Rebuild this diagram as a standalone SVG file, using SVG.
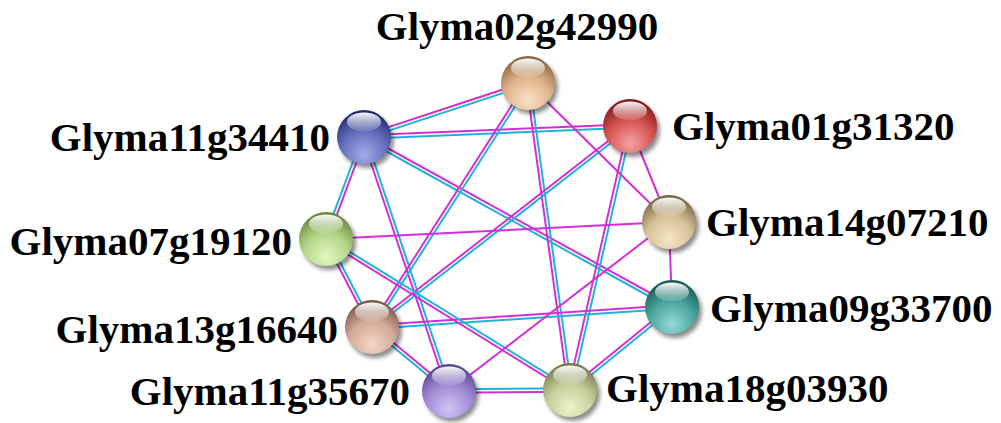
<svg xmlns="http://www.w3.org/2000/svg" width="1001" height="423" viewBox="0 0 1001 423">
  <style>
    .m { stroke: #d42ed8; stroke-width: 2; fill: none; }
    .c { stroke: #1fb3d5; stroke-width: 2; fill: none; }
    .lbl { font-family: "Liberation Serif", "Times New Roman", serif; font-weight: bold; font-size: 41px; fill: #000; }
    .shadow { fill: #000; opacity: 0.45; filter: url(#blur); }
    .gloss { fill: url(#gloss); }
  </style>
  <defs>
    <filter id="blur" x="-30%" y="-30%" width="160%" height="160%">
      <feGaussianBlur stdDeviation="2.2"/>
    </filter>
    <linearGradient id="gloss" x1="0" y1="0" x2="0" y2="1">
      <stop offset="0" stop-color="#fff" stop-opacity="0.97"/>
      <stop offset="1" stop-color="#fff" stop-opacity="0.1"/>
    </linearGradient>
    <radialGradient id="gTan" cx="0.5" cy="0.82" r="0.78">
      <stop offset="0" stop-color="#fbe1c6"/>
      <stop offset="0.55" stop-color="#deb48a"/>
      <stop offset="1" stop-color="#8e6844"/>
    </radialGradient>
    <radialGradient id="gRed" cx="0.5" cy="0.82" r="0.78">
      <stop offset="0" stop-color="#f7a2a2"/>
      <stop offset="0.55" stop-color="#d65454"/>
      <stop offset="1" stop-color="#861818"/>
    </radialGradient>
    <radialGradient id="gBlue" cx="0.5" cy="0.82" r="0.78">
      <stop offset="0" stop-color="#a3acea"/>
      <stop offset="0.55" stop-color="#646ebd"/>
      <stop offset="1" stop-color="#232e76"/>
    </radialGradient>
    <radialGradient id="gGreen" cx="0.5" cy="0.82" r="0.78">
      <stop offset="0" stop-color="#e4f8bf"/>
      <stop offset="0.55" stop-color="#b3d486"/>
      <stop offset="1" stop-color="#6a8a40"/>
    </radialGradient>
    <radialGradient id="gBeige" cx="0.5" cy="0.82" r="0.78">
      <stop offset="0" stop-color="#f6e6c6"/>
      <stop offset="0.55" stop-color="#d6c098"/>
      <stop offset="1" stop-color="#7a6544"/>
    </radialGradient>
    <radialGradient id="gTeal" cx="0.5" cy="0.82" r="0.78">
      <stop offset="0" stop-color="#96dcd6"/>
      <stop offset="0.55" stop-color="#4aa49e"/>
      <stop offset="1" stop-color="#165a56"/>
    </radialGradient>
    <radialGradient id="gRose" cx="0.5" cy="0.82" r="0.78">
      <stop offset="0" stop-color="#f5d6c8"/>
      <stop offset="0.55" stop-color="#d4aa98"/>
      <stop offset="1" stop-color="#7d584a"/>
    </radialGradient>
    <radialGradient id="gPurple" cx="0.5" cy="0.82" r="0.78">
      <stop offset="0" stop-color="#d2c4f6"/>
      <stop offset="0.55" stop-color="#a08bd5"/>
      <stop offset="1" stop-color="#5a4794"/>
    </radialGradient>
    <radialGradient id="gOlive" cx="0.5" cy="0.82" r="0.78">
      <stop offset="0" stop-color="#eef3ca"/>
      <stop offset="0.55" stop-color="#c6cd9c"/>
      <stop offset="1" stop-color="#777c4a"/>
    </radialGradient>
    <g id="sphereTop">
      <ellipse class="gloss" cx="0" cy="-15" rx="17" ry="9.5"/>
    </g>
  </defs>

  <rect width="1001" height="423" fill="#fff"/>

  <!-- interaction edges: paired lines = two evidence channels, single magenta = one -->
  <g id="edges">
    <!-- 11g34410 - 02g42990 -->
    <line class="m" x1="363.5" y1="135.4" x2="527.5" y2="81.4"/>
    <line class="c" x1="364.5" y1="138.6" x2="528.5" y2="84.6"/>
    <!-- 11g34410 - 01g31320 -->
    <line class="m" x1="364" y1="135.3" x2="630" y2="124.3"/>
    <line class="c" x1="364" y1="138.7" x2="630" y2="127.7"/>
    <!-- 11g34410 - 09g33700 -->
    <line class="m" x1="364.8" y1="135.5" x2="672.8" y2="305.5"/>
    <line class="c" x1="363.2" y1="138.5" x2="671.2" y2="308.5"/>
    <!-- 11g34410 - 07g19120 -->
    <line class="c" x1="362.4" y1="136.4" x2="324.4" y2="238.4"/>
    <line class="m" x1="365.6" y1="137.6" x2="327.6" y2="239.6"/>
    <!-- 11g34410 - 11g35670 -->
    <line class="m" x1="362.4" y1="137.5" x2="447.4" y2="391.5"/>
    <line class="c" x1="365.6" y1="136.5" x2="450.6" y2="390.5"/>
    <!-- 02g42990 - 13g16640 -->
    <line class="m" x1="526.6" y1="82.1" x2="370.6" y2="326.1"/>
    <line class="c" x1="529.4" y1="83.9" x2="373.4" y2="327.9"/>
    <!-- 02g42990 - 18g03930 -->
    <line class="m" x1="526.3" y1="83.2" x2="568.3" y2="390.2"/>
    <line class="c" x1="529.7" y1="82.8" x2="571.7" y2="389.8"/>
    <!-- 01g31320 - 13g16640 -->
    <line class="m" x1="629" y1="124.7" x2="371" y2="325.7"/>
    <line class="c" x1="631" y1="127.3" x2="373" y2="328.3"/>
    <!-- 01g31320 - 18g03930 -->
    <line class="m" x1="628.3" y1="125.6" x2="568.3" y2="389.6"/>
    <line class="c" x1="631.7" y1="126.4" x2="571.7" y2="390.4"/>
    <!-- 13g16640 - 09g33700 -->
    <line class="m" x1="371.9" y1="325.3" x2="671.9" y2="305.3"/>
    <line class="c" x1="372.1" y1="328.7" x2="672.1" y2="308.7"/>
    <!-- 09g33700 - 18g03930 -->
    <line class="m" x1="670.9" y1="305.7" x2="568.9" y2="388.7"/>
    <line class="c" x1="673.1" y1="308.3" x2="571.1" y2="391.3"/>
    <!-- 07g19120 - 18g03930 -->
    <line class="c" x1="326.9" y1="237.6" x2="570.9" y2="388.6"/>
    <line class="m" x1="325.1" y1="240.4" x2="569.1" y2="391.4"/>
    <!-- 07g19120 - 13g16640 -->
    <line class="m" x1="324.5" y1="239.8" x2="370.5" y2="327.8"/>
    <line class="c" x1="327.5" y1="238.2" x2="373.5" y2="326.2"/>
    <!-- 13g16640 - 11g35670 -->
    <line class="m" x1="373.1" y1="325.7" x2="450.1" y2="389.7"/>
    <line class="c" x1="370.9" y1="328.3" x2="447.9" y2="392.3"/>
    <!-- 11g35670 - 18g03930 -->
    <line class="c" x1="449" y1="389.3" x2="570" y2="388.3"/>
    <line class="m" x1="449" y1="392.7" x2="570" y2="391.7"/>
    <!-- single-channel links from 14g07210 -->
    <line class="m" x1="528" y1="83" x2="669" y2="222"/>
    <line class="m" x1="630" y1="126" x2="669" y2="222"/>
    <line class="m" x1="669" y1="222" x2="326" y2="239"/>
    <line class="m" x1="669" y1="222" x2="672" y2="307"/>
    <line class="m" x1="669" y1="222" x2="449" y2="391"/>
  </g>

  <g id="Glyma02g42990" transform="translate(528,83)">
    <circle class="shadow" cx="3" cy="4" r="27"/>
    <circle r="27" fill="url(#gTan)"/>
    <use href="#sphereTop"/>
    <text class="lbl" x="-11" y="-43" text-anchor="middle">Glyma02g42990</text>
  </g>
  <g id="Glyma01g31320" transform="translate(630,126)">
    <circle class="shadow" cx="3" cy="4" r="27"/>
    <circle r="27" fill="url(#gRed)"/>
    <use href="#sphereTop"/>
    <text class="lbl" x="42" y="14">Glyma01g31320</text>
  </g>
  <g id="Glyma11g34410" transform="translate(364,137)">
    <circle class="shadow" cx="3" cy="4" r="27"/>
    <circle r="27" fill="url(#gBlue)"/>
    <use href="#sphereTop"/>
    <text class="lbl" x="-34" y="14" text-anchor="end">Glyma11g34410</text>
  </g>
  <g id="Glyma14g07210" transform="translate(669,222)">
    <circle class="shadow" cx="3" cy="4" r="27"/>
    <circle r="27" fill="url(#gBeige)"/>
    <use href="#sphereTop"/>
    <text class="lbl" x="37" y="14">Glyma14g07210</text>
  </g>
  <g id="Glyma07g19120" transform="translate(326,239)">
    <circle class="shadow" cx="3" cy="4" r="27"/>
    <circle r="27" fill="url(#gGreen)"/>
    <use href="#sphereTop"/>
    <text class="lbl" x="-34" y="16" text-anchor="end">Glyma07g19120</text>
  </g>
  <g id="Glyma09g33700" transform="translate(672,307)">
    <circle class="shadow" cx="3" cy="4" r="27"/>
    <circle r="27" fill="url(#gTeal)"/>
    <use href="#sphereTop"/>
    <text class="lbl" x="38" y="15">Glyma09g33700</text>
  </g>
  <g id="Glyma13g16640" transform="translate(372,327)">
    <circle class="shadow" cx="3" cy="4" r="27"/>
    <circle r="27" fill="url(#gRose)"/>
    <use href="#sphereTop"/>
    <text class="lbl" x="-34" y="16" text-anchor="end">Glyma13g16640</text>
  </g>
  <g id="Glyma11g35670" transform="translate(449,391)">
    <circle class="shadow" cx="3" cy="4" r="27"/>
    <circle r="27" fill="url(#gPurple)"/>
    <use href="#sphereTop"/>
    <text class="lbl" x="-39" y="14" text-anchor="end">Glyma11g35670</text>
  </g>
  <g id="Glyma18g03930" transform="translate(570,390)">
    <circle class="shadow" cx="3" cy="4" r="27"/>
    <circle r="27" fill="url(#gOlive)"/>
    <use href="#sphereTop"/>
    <text class="lbl" x="36" y="12">Glyma18g03930</text>
  </g>
</svg>
